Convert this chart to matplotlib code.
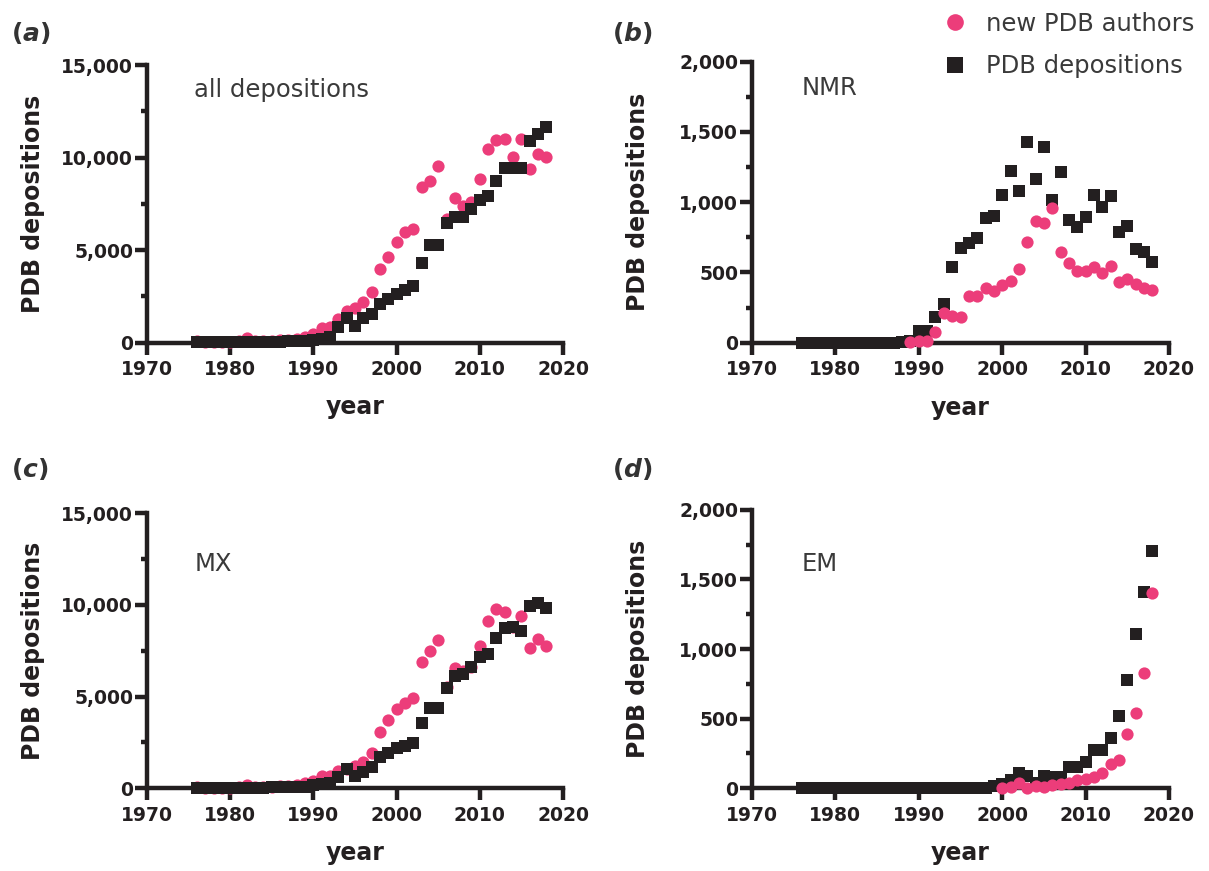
import numpy as np
import matplotlib
matplotlib.use("Agg")
import matplotlib.pyplot as plt
from matplotlib.lines import Line2D
from matplotlib.ticker import FuncFormatter, MultipleLocator

plt.rcParams['font.family'] = ['DejaVu Sans']
plt.rcParams['mathtext.fontset'] = 'dejavusans'

# data
years = list(range(1976, 2019))

all_authors = [100, 40, 30, 60, 50, 90, 280, 80, 70, 90, 120, 160, 220,
               330, 470, 800, 860, 1260, 1730, 1850, 2200, 2750, 3960, 4640,
               5420, 5960, 6140, 8420, 8750, 9540, 6660, 7830, 7400, 7610,
               8840, 10440, 10940, 11000, 10040, 11000, 9380, 10170, 10010]
all_deps = [13, 15, 20, 25, 30, 35, 40, 45, 50, 55, 60, 70, 80,
            100, 120, 200, 290, 860, 1310, 920, 1310, 1550, 2090, 2340,
            2610, 2840, 3080, 4320, 5270, 5270, 6480, 6800, 6800, 7220,
            7700, 7920, 8750, 9410, 9410, 9410, 10890, 11270, 11660]

nmr_authors = [np.nan] * 13 + [5, 10, 15, 75, 210, 188, 185, 330, 330, 387,
                               365, 410, 440, 523, 718, 866, 850, 956, 648,
                               565, 512, 512, 536, 493, 548, 434, 453, 417,
                               391, 375]
nmr_deps = [0] * 12 + [7, 14, 85, 85, 183, 272, 536, 671, 712, 747, 885, 904,
                       1051, 1222, 1081, 1430, 1164, 1390, 1015, 1212, 873,
                       825, 892, 1051, 963, 1046, 790, 833, 667, 648, 576]

mx_authors = [50, 30, 20, 40, 40, 60, 200, 60, 50, 60, 100, 130, 200,
              300, 400, 670, 670, 960, 1030, 1210, 1450, 1900, 3050, 3730,
              4310, 4640, 4910, 6910, 7510, 8090, 5550, 6550, 6420, 6640,
              7770, 9150, 9780, 9630, 8800, 9390, 7640, 8130, 7770]
mx_deps = [10, 12, 15, 18, 20, 25, 30, 35, 40, 45, 50, 55, 60, 80,
           180, 240, 290, 600, 1030, 670, 910, 1180, 1690, 1900,
           2180, 2320, 2450, 3550, 4360, 4360, 5490, 6150, 6220, 6640,
           7180, 7330, 8180, 8730, 8820, 8600, 9950, 10090, 9850]

em_authors = [np.nan] * 24 + [0, 9, 38, 0, 15, 9, 21, 33, 38, 57, 69, 81,
                              110, 175, 206, 393, 541, 830, 1405]
em_deps = [0] * 23 + [17, 31, 60, 112, 88, 36, 88, 79, 79, 155, 155, 191,
                      275, 275, 363, 519, 777, 1107, 1410, 1704]

pink = '#ec3d7a'
black = '#231f20'
W, H = 1209, 871

fig = plt.figure(figsize=(W / 100, H / 100), dpi=100)


def make_panel(rect, authors, deps, ymax, major, minor, title, letter,
               pink_on_top, letter_xy, title_xy):
    ax = fig.add_axes(rect)
    z_p, z_b = (3, 2) if pink_on_top else (2, 3)
    ax.plot(years, deps, ls='none', marker='s', ms=8.4, color=black,
            mew=0, clip_on=False, zorder=z_b)
    ax.plot(years, authors, ls='none', marker='o', ms=8.8, color=pink,
            mew=0, clip_on=False, zorder=z_p)
    ax.set_xlim(1970, 2020)
    ax.set_ylim(0, ymax)
    ax.xaxis.set_major_locator(MultipleLocator(10))
    ax.yaxis.set_major_locator(MultipleLocator(major))
    ax.yaxis.set_minor_locator(MultipleLocator(minor))
    ax.yaxis.set_major_formatter(FuncFormatter(lambda v, p: f'{v:,.0f}'))
    for s in ['top', 'right']:
        ax.spines[s].set_visible(False)
    for s in ['left', 'bottom']:
        ax.spines[s].set_linewidth(3.2)
        ax.spines[s].set_color(black)
    ax.tick_params(axis='both', which='major', width=3.2, length=8.5,
                   color=black, labelcolor=black, labelsize=13.5)
    ax.tick_params(axis='y', which='minor', width=3.2, length=4.5, color=black)
    ax.tick_params(axis='y', which='major', pad=1.5)
    ax.tick_params(axis='x', which='major', pad=4)
    for lab in ax.get_xticklabels() + ax.get_yticklabels():
        lab.set_fontweight('bold')
    ax.set_ylabel('PDB depositions', fontsize=17, fontweight='bold', color=black)
    ax.set_xlabel('year', fontsize=17, fontweight='bold', color=black)
    ax.yaxis.set_label_coords(-0.245, 0.5)
    ax.xaxis.set_label_coords(0.5, -0.19)
    ax.text(title_xy[0], title_xy[1], title, transform=ax.transAxes,
            fontsize=17.5, color='#3a3a3a', ha='left', va='baseline')
    fig.text(letter_xy[0] / W, 1 - letter_xy[1] / H,
             r'($\mathbfit{' + letter + '}$)', fontsize=18, fontweight='bold',
             color='#333333', ha='left', va='baseline')
    return ax


make_panel([147 / W, 1 - 342.7 / H, 416 / W, 277.7 / H], all_authors, all_deps,
           15000, 5000, 2500, 'all depositions', 'a', False, (11, 41), (0.113, 0.885))
make_panel([752 / W, 1 - 342.7 / H, 417 / W, 281 / H], nmr_authors, nmr_deps,
           2000, 500, 250, 'NMR', 'b', True, (612, 41), (0.12, 0.881))
make_panel([147 / W, 1 - 788.3 / H, 416 / W, 275 / H], mx_authors, mx_deps,
           15000, 5000, 2500, 'MX', 'c', False, (11, 477), (0.115, 0.79))
make_panel([752 / W, 1 - 788.3 / H, 417 / W, 278.6 / H], em_authors, em_deps,
           2000, 500, 250, 'EM', 'd', True, (612, 477), (0.12, 0.78))

handles = [Line2D([], [], ls='none', marker='o', ms=12, color=pink, mew=0),
           Line2D([], [], ls='none', marker='s', ms=11, color=black, mew=0)]
fig.legend(handles, ['new PDB authors', 'PDB depositions'], loc='upper left',
           bbox_to_anchor=(943 / W, 1 - 12 / H), frameon=False, fontsize=17.5,
           labelcolor='#3a3a3a', handlelength=1.0, handletextpad=0.75,
           labelspacing=0.75, borderpad=0, borderaxespad=0)

fig.savefig('out.png', dpi=100)
